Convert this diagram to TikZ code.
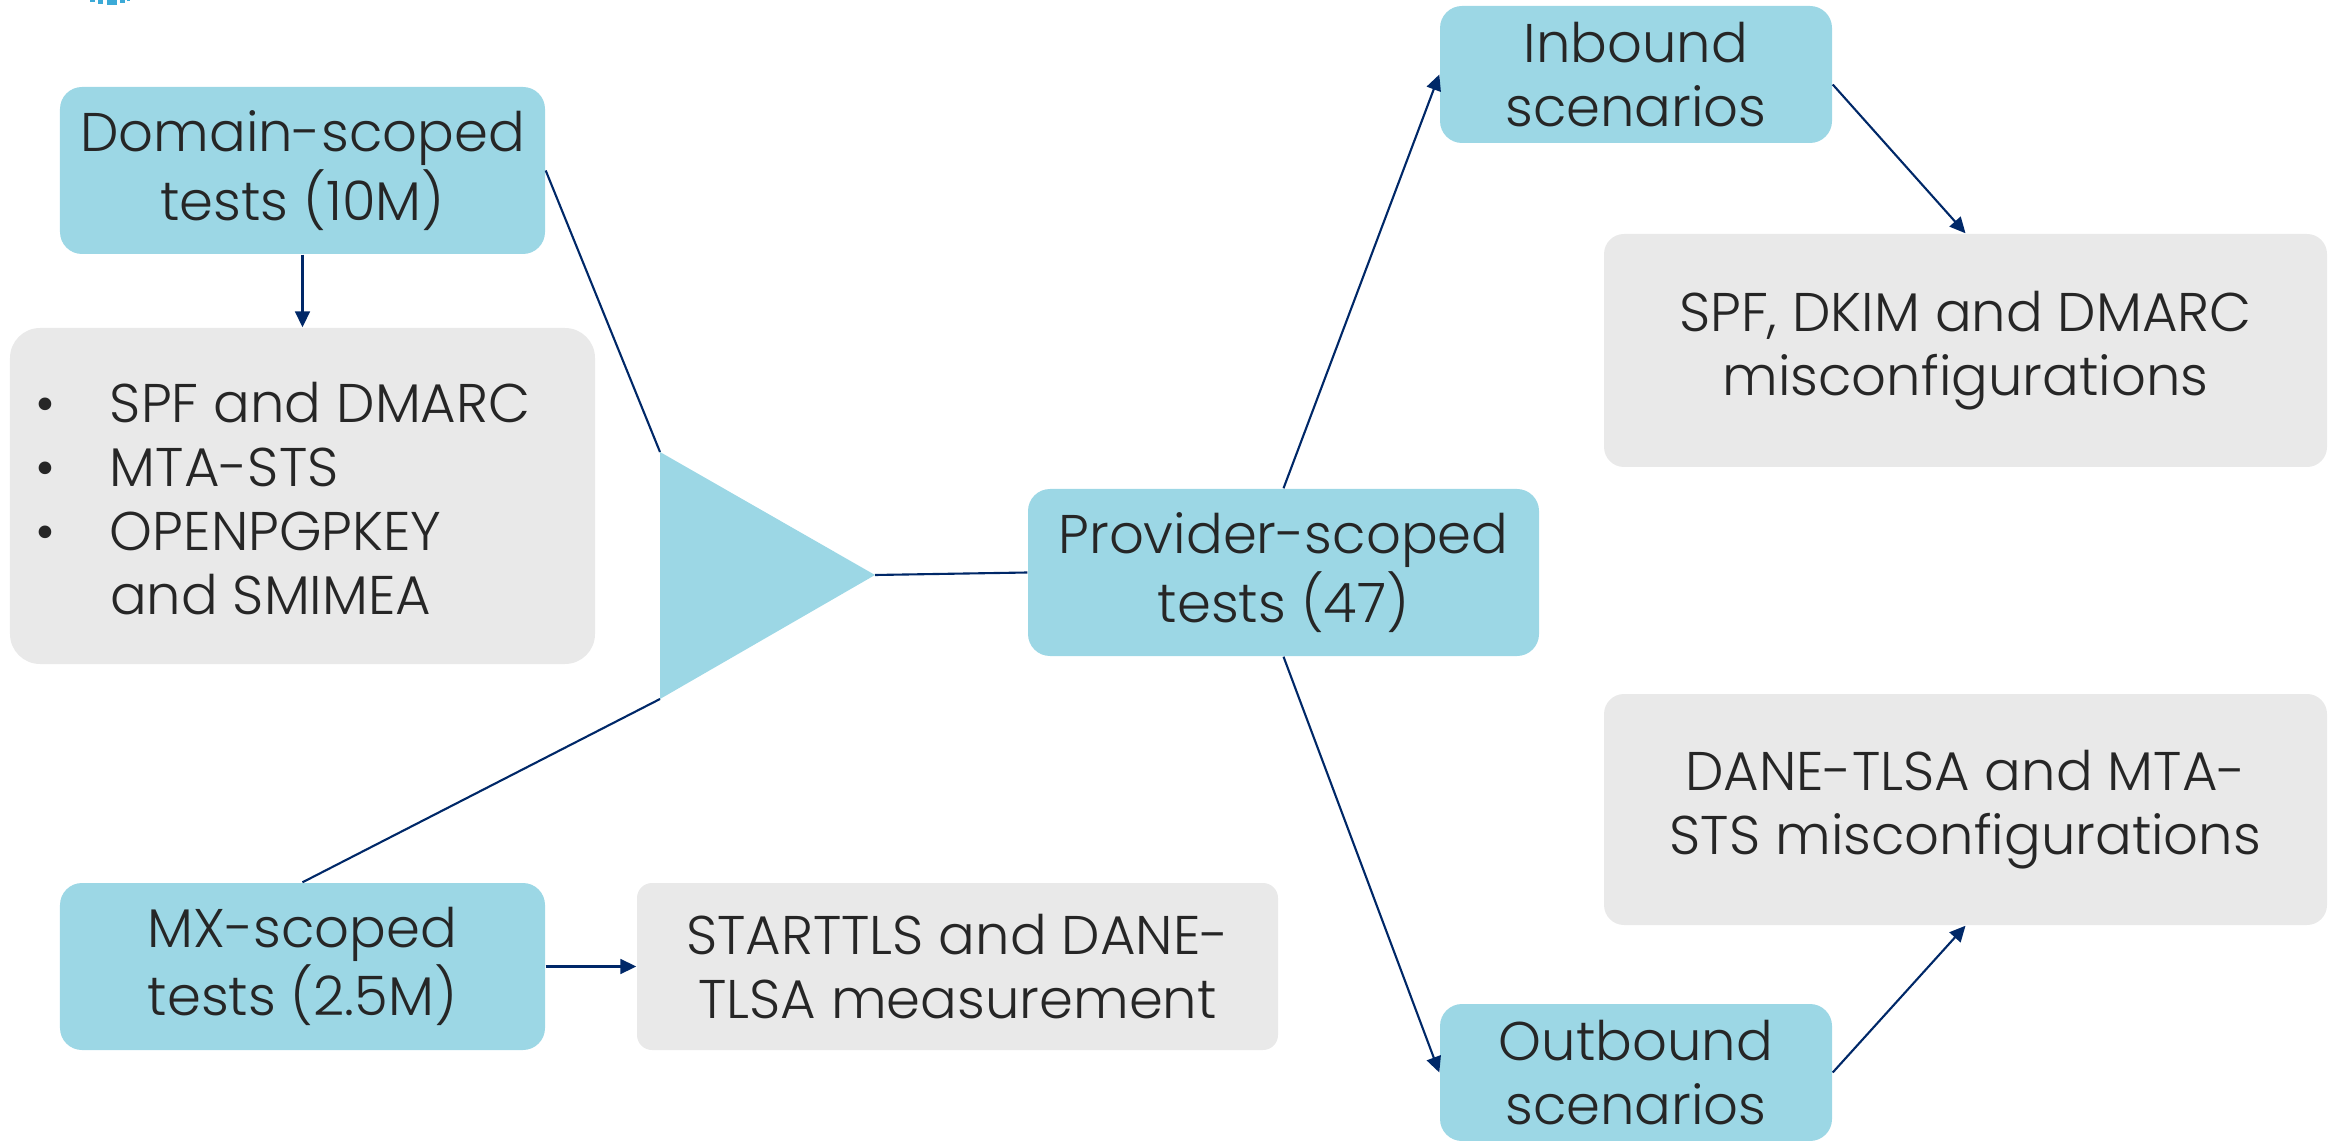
\documentclass[tikz,border=0pt]{standalone}
\usepackage{fontspec}
\setmainfont{Poppins}[UprightFont=* Light]
\usetikzlibrary{arrows.meta}
\definecolor{boxblue}{RGB}{156,215,229}
\definecolor{boxgray}{RGB}{233,233,233}
\definecolor{linknavy}{RGB}{0,40,104}
\definecolor{textdark}{RGB}{38,38,38}
\definecolor{logoblue}{RGB}{60,170,215}
\begin{document}
\begin{tikzpicture}[
        bluebox/.style={fill=boxblue, rounded corners=0.22cm, align=center, text=textdark, inner sep=0pt,
            execute at begin node={\rule{0pt}{17pt}}},
        graybox/.style={fill=boxgray, rounded corners=0.2cm, align=center, text=textdark, inner sep=0pt,
            execute at begin node={\rule{0pt}{17pt}}},
        link/.style={draw=linknavy, line width=0.6pt},
        arr/.style={link, -{Triangle[length=4.5pt,width=4.2pt]}},
        font=\fontsize{15.5}{18.2}\selectfont]
    \useasboundingbox (0,0) rectangle (23.39,-11.41);
    % cut-off logo at the top edge
    \foreach \xa/\xb/\h in {0.90/0.95/0.02, 0.98/1.03/0.04, 1.07/1.17/0.05, 1.20/1.25/0.03, 1.27/1.30/0.01}
        \fill[logoblue] (\xa,0) rectangle (\xb,-\h);
    % left column
    \node[bluebox, minimum width=4.85cm, minimum height=1.67cm] (domain) at (3.025,-1.705) {Domain-scoped\\tests (10M)};
    \node[fill=boxgray, rounded corners=0.3cm, minimum width=5.85cm, minimum height=3.36cm] (domainres) at (3.025,-4.96) {};
    \node[anchor=west, text=textdark, inner sep=0pt] (domainlist) at ([xshift=0.26cm,yshift=-0.1cm]domainres.west)
        {\begin{tabular}{@{}p{0.74cm}@{}l@{}}
            \textbullet & SPF and DMARC\\
            \textbullet & MTA-STS\\
            \textbullet & OPENPGPKEY\\
                        & and SMIMEA
        \end{tabular}};
    \node[bluebox, minimum width=4.85cm, minimum height=1.67cm] (mx) at (3.025,-9.665) {MX-scoped\\tests (2.5M)};
    \node[graybox, rounded corners=0.15cm, minimum width=6.41cm, minimum height=1.67cm] (mxres) at (9.575,-9.665) {STARTTLS and DANE-\\TLSA measurement};
    % funnel
    \coordinate (tritop) at (6.60,-4.52);
    \coordinate (tribot) at (6.60,-6.99);
    \coordinate (triapex) at (8.75,-5.75);
    \fill[boxblue] (tritop) -- (triapex) -- (tribot) -- cycle;
    % right part
    \node[bluebox, minimum width=5.11cm, minimum height=1.67cm] (provider) at (12.835,-5.725) {Provider-scoped\\tests (47)};
    \node[bluebox, minimum width=3.92cm, minimum height=1.37cm] (inbound) at (16.36,-0.745) {Inbound\\scenarios};
    \node[bluebox, minimum width=3.92cm, minimum height=1.37cm] (outbound) at (16.36,-10.725) {Outbound\\scenarios};
    \node[graybox, minimum width=7.23cm, minimum height=2.33cm] (inres) at (19.655,-3.505) {SPF, DKIM and DMARC\\misconfigurations};
    \node[graybox, minimum width=7.23cm, minimum height=2.31cm] (outres) at (19.655,-8.095) {DANE-TLSA and MTA-\\STS misconfigurations};
    % connectors
    \draw[arr] (domain.south) -- (domainres.north);
    \draw[link] (domain.east) -- (tritop);
    \draw[link] (mx.north) -- (tribot);
    \draw[link] (triapex) -- (provider.west);
    \draw[arr] (mx.east) -- (mxres.west);
    \draw[arr] (provider.north) -- (inbound.west);
    \draw[arr] (provider.south) -- (outbound.west);
    \draw[arr] ([yshift=-0.1cm]inbound.east) -- (inres.north);
    \draw[arr] (outbound.east) -- (outres.south);
\end{tikzpicture}
\end{document}
